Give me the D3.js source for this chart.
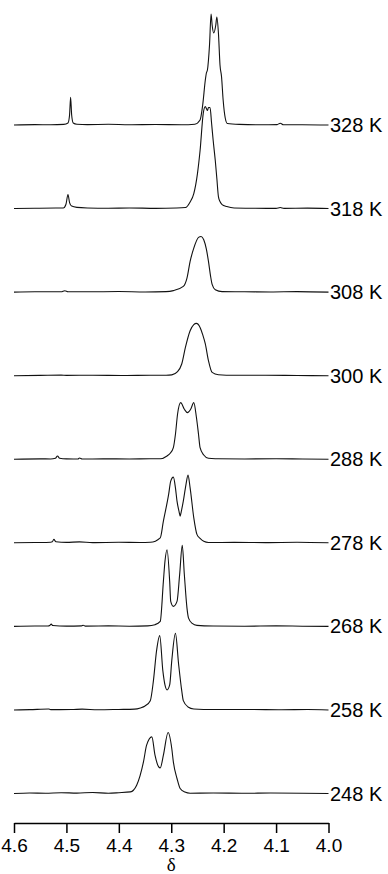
<!DOCTYPE html>
<html>
<head>
<meta charset="utf-8">
<script src="https://cdn.jsdelivr.net/npm/d3@7"></script>
<style>
  html, body { margin: 0; padding: 0; background: #fff; }
  svg { display: block; }
  .tick text { font-family: 'Liberation Sans', Arial, sans-serif; }
</style>
</head>
<body>
<div id="myPlot"></div>
<script>
// temperatures, top to bottom
const temps = [328, 318, 308, 300, 288, 278, 268, 258, 248];
const tempLabels = temps.map(t => t + ' K');
const xTicks = [4.6, 4.5, 4.4, 4.3, 4.2, 4.1, 4.0];

// spectra: [ppm, intensity]
const s328 = [[4.60,0],[4.56,0.4],[4.53,0.2],[4.505,0.6],[4.497,2],[4.494,10],[4.492,27.7],[4.490,10],[4.487,2],[4.48,0.8],[4.46,0.4],[4.42,0.7],[4.38,0.2],[4.33,0.5],[4.28,0.3],[4.255,0.8],[4.245,5],[4.240,20],[4.235,45],[4.233,52],[4.231,55],[4.227,80],[4.224,111],[4.222,100],[4.219,92],[4.215,100],[4.213,108],[4.210,92],[4.207,60],[4.204,48],[4.201,25],[4.197,7],[4.193,1.5],[4.17,0.6],[4.13,0.2],[4.098,0.4],[4.092,1.8],[4.086,0.3],[4.05,0.3],[4.00,0]];
const s318 = [[4.60,0],[4.56,0.3],[4.52,0.5],[4.506,0.5],[4.501,4],[4.497,14],[4.494,6],[4.490,2.5],[4.48,1.2],[4.46,0.6],[4.42,0.3],[4.38,0.6],[4.33,0.2],[4.29,0.5],[4.273,1],[4.264,6.6],[4.257,15],[4.250,35],[4.245,58],[4.239,95],[4.235,102],[4.233,100],[4.231,98],[4.229,101],[4.226,101],[4.223,85],[4.220,68],[4.216,48],[4.213,30],[4.210,12],[4.207,7],[4.203,4],[4.194,2],[4.18,0.5],[4.14,0.3],[4.10,0.2],[4.092,1],[4.085,0.2],[4.04,0.4],[4.00,0]];
const s308 = [[4.60,0],[4.56,0.4],[4.51,0.3],[4.503,1.4],[4.497,0.4],[4.46,0.3],[4.40,0.6],[4.35,0.2],[4.31,0.5],[4.296,1.5],[4.277,5.7],[4.270,14],[4.264,30.7],[4.257,44],[4.248,54.7],[4.243,55.7],[4.238,52.4],[4.233,43],[4.229,30.7],[4.225,16],[4.222,7.7],[4.216,2.4],[4.203,0.5],[4.16,0.4],[4.11,0.2],[4.06,0.5],[4.00,0]];
const s300 = [[4.60,0],[4.55,0.3],[4.51,0.6],[4.50,0.3],[4.45,0.5],[4.39,0.2],[4.34,0.5],[4.31,0.4],[4.299,0.8],[4.288,4],[4.280,11.7],[4.273,28.3],[4.264,45],[4.257,51],[4.252,52.3],[4.245,48.3],[4.240,41],[4.235,31.7],[4.229,15],[4.222,3.3],[4.210,1],[4.18,0.4],[4.12,0.5],[4.06,0.2],[4.00,0]];
const s288 = [[4.60,0],[4.55,0.4],[4.53,0.3],[4.521,1],[4.517,3.3],[4.513,1],[4.50,0.4],[4.478,0.3],[4.475,1.2],[4.470,0.2],[4.43,0.4],[4.38,0.3],[4.34,0.5],[4.321,0.5],[4.308,3.3],[4.302,6],[4.296,11.6],[4.292,25],[4.288,45],[4.282,56.6],[4.275,50],[4.269,46.6],[4.263,50],[4.257,56.6],[4.252,42],[4.248,25],[4.245,11.6],[4.238,4.3],[4.229,1],[4.216,0.5],[4.16,0.3],[4.10,0.5],[4.05,0.2],[4.00,0]];
const s278 = [[4.60,0],[4.56,0.3],[4.53,0.6],[4.527,1],[4.524,3.4],[4.520,1],[4.50,0.4],[4.475,0.9],[4.45,0.2],[4.40,0.5],[4.36,0.3],[4.340,0.5],[4.321,5],[4.315,21.7],[4.305,48.4],[4.301,61.7],[4.296,65.7],[4.292,55],[4.289,41.7],[4.285,31],[4.283,26.7],[4.281,31],[4.277,41.7],[4.272,58],[4.268,67.7],[4.264,55],[4.257,25],[4.251,8.4],[4.245,4.4],[4.238,1.5],[4.229,0.3],[4.18,0.4],[4.12,0.2],[4.06,0.5],[4.00,0]];
const s268 = [[4.60,0],[4.56,0.4],[4.535,0.3],[4.532,0.8],[4.529,2.3],[4.526,0.8],[4.50,0.3],[4.471,0.5],[4.468,1.2],[4.464,0.3],[4.42,0.5],[4.38,0.2],[4.345,0.5],[4.331,1.7],[4.321,5],[4.315,45],[4.312,65],[4.308,76.7],[4.303,45],[4.301,25],[4.296,20],[4.289,25],[4.284,51.7],[4.279,81],[4.275,51.7],[4.270,18.3],[4.267,8.3],[4.260,3],[4.251,1],[4.22,0.4],[4.16,0.2],[4.10,0.5],[4.05,0.2],[4.00,0]];
const s258 = [[4.60,0],[4.57,0.3],[4.534,0.9],[4.53,0.3],[4.49,0.4],[4.47,0.8],[4.44,0.2],[4.40,0.5],[4.37,0.8],[4.359,2],[4.350,4],[4.340,9.3],[4.334,29.3],[4.328,59.3],[4.322,74.3],[4.316,39],[4.312,25],[4.308,20],[4.303,25],[4.299,49.3],[4.292,76.6],[4.286,46],[4.280,19.3],[4.277,9.3],[4.268,3],[4.257,1],[4.22,0.4],[4.15,0.5],[4.09,0.2],[4.04,0.4],[4.00,0]];
const s248 = [[4.60,0],[4.57,0.5],[4.54,0.2],[4.51,0.8],[4.48,0.4],[4.45,1],[4.42,0.3],[4.40,0.8],[4.378,1.6],[4.366,8.3],[4.353,31.6],[4.347,48.3],[4.337,56.6],[4.331,38.3],[4.324,26.6],[4.321,25.6],[4.315,38.3],[4.306,61],[4.299,45],[4.296,31.6],[4.289,15],[4.283,5],[4.274,1.5],[4.264,0.3],[4.22,0.5],[4.16,0.2],[4.11,0.5],[4.05,0.3],[4.00,0]];

const spectra = [s328, s318, s308, s300, s288, s278, s268, s258, s248];

const width = 388, height = 874;

const svg = d3.select('#myPlot')
  .append('svg')
    .attr('width', width)
    .attr('height', height);

// chemical shift axis runs right to left
const x = d3.scaleLinear()
  .domain([4.6, 4.0])
  .range([14, 328.5]);

// baseline of each trace
const offset = d3.scalePoint()
  .domain(temps)
  .range([125, 793.5]);

// intensity, in trace units
const y = d3.scaleLinear()
  .domain([0, 100])
  .range([0, -100]);

const line = d3.line()
  .x(d => x(d[0]))
  .y(d => y(d[1]))
  .curve(d3.curveMonotoneX);

const traces = svg.selectAll('g.trace')
  .data(temps)
  .enter()
  .append('g')
    .attr('class', 'trace')
    .attr('transform', d => 'translate(0,' + offset(d) + ')');

traces.append('path')
  .attr('d', (d, i) => line(spectra[i].slice().sort((a, b) => b[0] - a[0])))
  .attr('fill', 'none')
  .attr('stroke', '#111')
  .attr('stroke-width', 1.1)
  .attr('stroke-linejoin', 'round');

traces.append('text')
  .attr('x', 330)
  .attr('y', 7)
  .attr('font-family', "'Liberation Sans', Arial, sans-serif")
  .attr('font-size', 20)
  .attr('fill', '#000')
  .text((d, i) => tempLabels[i]);

// X axis
const axis = svg.append('g')
  .attr('transform', 'translate(0,823)')
  .call(d3.axisBottom(x)
    .tickValues(xTicks)
    .tickFormat(d3.format('.1f'))
    .tickSize(10)
    .tickSizeOuter(0)
    .tickPadding(6));

axis.select('.domain')
  .attr('stroke', '#000')
  .attr('stroke-width', 1.5);
axis.selectAll('.tick line')
  .attr('stroke', '#000')
  .attr('stroke-width', 1.5);
axis.selectAll('.tick text')
  .attr('font-size', 19)
  .attr('fill', '#000');

svg.append('text')
  .attr('x', x(4.3))
  .attr('y', 871)
  .attr('text-anchor', 'middle')
  .attr('font-family', "'Liberation Serif', 'DejaVu Serif', serif")
  .attr('font-size', 19)
  .text('δ');
</script>
</body>
</html>
